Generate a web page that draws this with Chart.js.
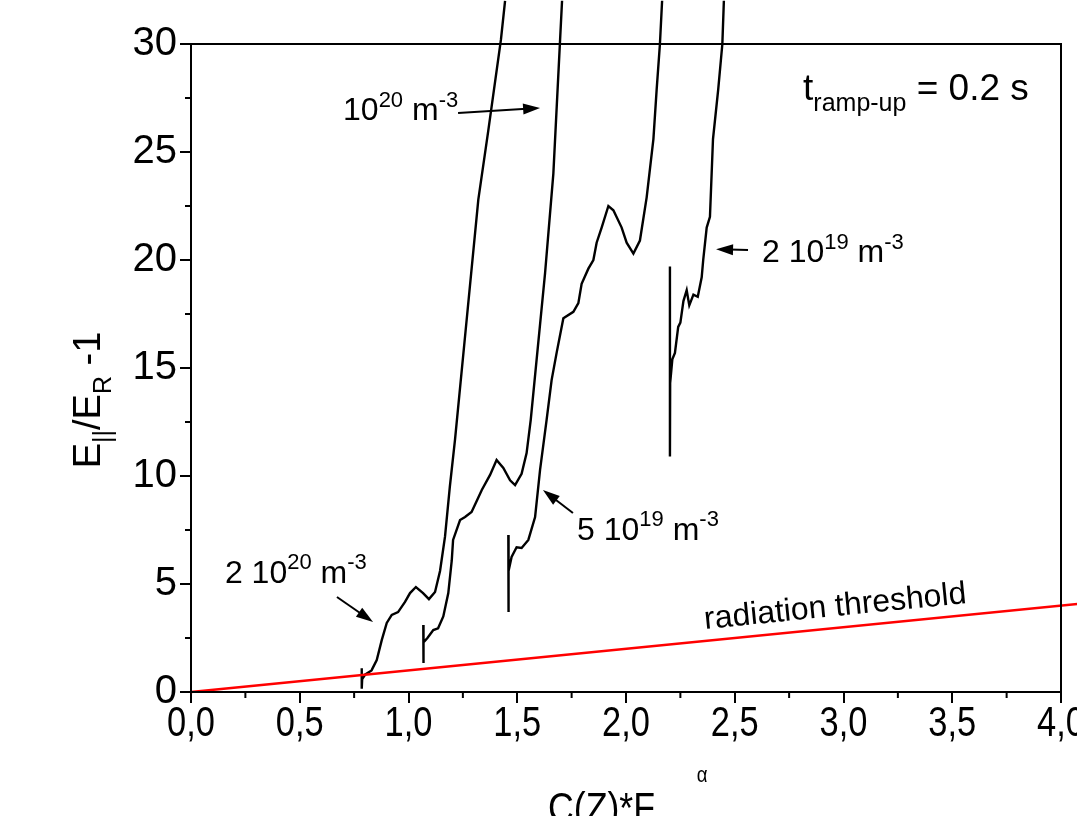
<!DOCTYPE html>
<html>
<head>
<meta charset="utf-8">
<script src="https://cdn.jsdelivr.net/npm/chart.js@4.4.1/dist/chart.umd.min.js"></script>
<style>
  html, body { margin: 0; padding: 0; background: #fff; overflow: hidden; }
  #wrap { width: 1120px; height: 840px; }
</style>
</head>
<body>
<div id="wrap"><canvas id="fieldChart" width="1120" height="840"></canvas></div>
<script>
// curves E||/ER - 1 vs C(Z)*F^alpha, one per density
const dens2e20 = [[0.785,1.1],[0.785,0.15],[0.787,0.6],[0.80,0.8],[0.83,1.0],[0.854,1.48],[0.877,2.4],[0.90,3.2],[0.923,3.57],[0.952,3.7],[0.984,4.17],[1.007,4.58],[1.034,4.86],[1.067,4.58],[1.094,4.3],[1.122,4.63],[1.145,5.6],[1.168,7.2],[1.19,9.5],[1.214,11.7],[1.27,17.5],[1.321,22.8],[1.367,26.0],[1.425,30.2],[1.444,32]];
const dens1e20 = [[1.068,3.1],[1.068,1.34],[1.070,2.3],[1.087,2.5],[1.114,2.87],[1.136,2.95],[1.16,3.5],[1.183,4.58],[1.199,6.1],[1.205,7.04],[1.237,7.96],[1.26,8.1],[1.29,8.33],[1.32,8.98],[1.337,9.35],[1.375,10.05],[1.405,10.74],[1.436,10.37],[1.467,9.8],[1.49,9.58],[1.52,10.1],[1.543,11.06],[1.562,12.6],[1.628,19.4],[1.666,24.0],[1.697,30.2],[1.706,32]];
const dens5e19 = [[1.459,7.27],[1.459,3.7],[1.461,5.6],[1.474,6.25],[1.497,6.7],[1.52,6.67],[1.551,7.04],[1.582,8.1],[1.605,10.3],[1.635,12.6],[1.658,14.44],[1.681,15.7],[1.712,17.3],[1.758,17.6],[1.781,18.0],[1.796,18.9],[1.827,19.6],[1.85,20.0],[1.865,20.8],[1.888,21.5],[1.919,22.5],[1.942,22.3],[1.98,21.5],[2.003,20.8],[2.034,20.3],[2.064,20.9],[2.095,22.9],[2.126,25.6],[2.141,27.9],[2.156,30.0],[2.166,32]];
const dens2e19 = [[2.202,19.7],[2.202,10.9],[2.203,14.3],[2.213,15.4],[2.225,15.7],[2.24,16.9],[2.25,17.1],[2.264,18.1],[2.279,18.6],[2.291,17.9],[2.31,18.4],[2.33,18.3],[2.348,19.2],[2.355,20.0],[2.371,21.5],[2.386,22.0],[2.40,25.6],[2.424,27.9],[2.443,30.0],[2.45,32]];
const threshold = [[0,0],[4.3,4.3]];

const xTicks = [0, 0.5, 1, 1.5, 2, 2.5, 3, 3.5, 4];
const yTicks = [0, 5, 10, 15, 20, 25, 30];

const FONT = "'Liberation Sans', Arial, sans-serif";

function pts(arr) {
    return arr.map(p => ({x: p[0], y: p[1]}));
}

// text with sub/superscript pieces: [text, 0 normal | 1 sup | -1 sub]
function drawRich(ctx, x, y, parts, size, small, align) {
    let total = 0;
    parts.forEach(p => {
        ctx.font = (p[1] ? small : size) + 'px ' + FONT;
        p.w = ctx.measureText(p[0]).width;
        total += p.w;
    });
    let cx = align === 'center' ? x - total / 2 : (align === 'right' ? x - total : x);
    ctx.textBaseline = 'alphabetic';
    ctx.textAlign = 'left';
    parts.forEach(p => {
        ctx.font = (p[1] ? small : size) + 'px ' + FONT;
        let dy = p[1] === 1 ? -size * 0.42 : (p[1] === -1 ? size * 0.3 : 0);
        ctx.fillText(p[0], cx, y + dy);
        cx += p.w;
    });
}

function arrow(ctx, x1, y1, x2, y2) {
    const ang = Math.atan2(y2 - y1, x2 - x1);
    const head = 17, half = 5.5;
    ctx.beginPath();
    ctx.moveTo(x1, y1);
    ctx.lineTo(x2 - Math.cos(ang) * head * 0.8, y2 - Math.sin(ang) * head * 0.8);
    ctx.lineWidth = 2;
    ctx.stroke();
    ctx.beginPath();
    ctx.moveTo(x2, y2);
    ctx.lineTo(x2 - Math.cos(ang) * head - Math.sin(ang) * half, y2 - Math.sin(ang) * head + Math.cos(ang) * half);
    ctx.lineTo(x2 - Math.cos(ang) * head + Math.sin(ang) * half, y2 - Math.sin(ang) * head - Math.cos(ang) * half);
    ctx.closePath();
    ctx.fill();
}

const decorations = {
    id: 'decorations',
    afterDraw(chart) {
        const ctx = chart.ctx;
        const a = chart.chartArea;
        const xs = chart.scales.x, ys = chart.scales.y;
        const X = v => xs.getPixelForValue(v);
        const Y = v => ys.getPixelForValue(v);
        ctx.save();
        ctx.strokeStyle = '#000';
        ctx.fillStyle = '#000';

        // frame
        ctx.lineWidth = 2;
        ctx.strokeRect(a.left, a.top, a.right - a.left, a.bottom - a.top);

        // minor ticks
        ctx.beginPath();
        for (let v = 0.25; v < 4; v += 0.5) {
            ctx.moveTo(X(v), a.bottom);
            ctx.lineTo(X(v), a.bottom + 6);
        }
        for (let v = 2.5; v < 30; v += 5) {
            ctx.moveTo(a.left, Y(v));
            ctx.lineTo(a.left - 6, Y(v));
        }
        ctx.stroke();

        // x tick labels, condensed like the original
        ctx.font = '42px ' + FONT;
        ctx.textAlign = 'center';
        ctx.textBaseline = 'alphabetic';
        xTicks.forEach(v => {
            ctx.save();
            ctx.translate(X(v), a.bottom + 44);
            ctx.scale(0.82, 1);
            ctx.fillText(v.toFixed(1).replace('.', ','), 0, 0);
            ctx.restore();
        });

        // x axis title
        ctx.save();
        ctx.translate(548, 822);
        ctx.scale(0.85, 1);
        ctx.font = '42px ' + FONT;
        ctx.textAlign = 'left';
        ctx.fillText('C(Z)*F', 0, 0);
        ctx.font = '22px ' + FONT;
        ctx.fillText('\u03B1', 175, -40);
        ctx.restore();

        // y axis title
        ctx.save();
        ctx.translate(100, 400);
        ctx.rotate(-Math.PI / 2);
        drawRich(ctx, 0, 0, [['E', 0], ['||', -1], ['/E', 0], ['R', -1], [' -1', 0]], 38, 25, 'center');
        ctx.restore();

        // annotations
        drawRich(ctx, X(0.699), Y(26.48), [['10', 0], ['20', 1], [' m', 0], ['-3', 1]], 32, 22, 'left');
        arrow(ctx, X(1.228), Y(26.8), X(1.605), Y(27.04));

        drawRich(ctx, X(2.814), Y(27.4), [['t', 0], ['ramp-up', -1], [' = 0.2 s', 0]], 37, 25, 'left');

        drawRich(ctx, X(2.625), Y(19.9), [['2 10', 0], ['19', 1], [' m', 0], ['-3', 1]], 32, 22, 'left');
        arrow(ctx, X(2.561), Y(20.46), X(2.414), Y(20.5));

        drawRich(ctx, X(1.775), Y(7.04), [['5 10', 0], ['19', 1], [' m', 0], ['-3', 1]], 32, 22, 'left');
        arrow(ctx, X(1.756), Y(8.29), X(1.618), Y(9.35));

        drawRich(ctx, X(0.156), Y(5.05), [['2 10', 0], ['20', 1], [' m', 0], ['-3', 1]], 32, 22, 'left');
        arrow(ctx, X(0.671), Y(4.4), X(0.837), Y(3.24));

        // label along the threshold line
        const lx = 2.966;
        const ang = Math.atan2(Y(4) - Y(0), X(4) - X(0));
        ctx.save();
        ctx.translate(X(lx), Y(lx) - 12);
        ctx.rotate(ang);
        ctx.font = '32px ' + FONT;
        ctx.textAlign = 'center';
        ctx.textBaseline = 'alphabetic';
        ctx.fillText('radiation threshold', 0, 0);
        ctx.restore();

        ctx.restore();
    }
};

function lineSet(data, color, width) {
    return {
        data: pts(data),
        showLine: true,
        borderColor: color,
        borderWidth: width,
        pointRadius: 0,
        tension: 0,
        clip: false
    };
}

const ctx = document.getElementById('fieldChart').getContext('2d');
const fieldChart = new Chart(ctx, {
    type: 'scatter',
    data: {
        datasets: [
            lineSet(threshold, '#ff0000', 2.5),
            lineSet(dens2e20, '#000', 2.4),
            lineSet(dens1e20, '#000', 2.4),
            lineSet(dens5e19, '#000', 2.4),
            lineSet(dens2e19, '#000', 2.4)
        ]
    },
    options: {
        responsive: false,
        animation: false,
        events: [],
        layout: { padding: { top: 44, right: 59, left: 0, bottom: 0 } },
        plugins: { legend: { display: false }, tooltip: { enabled: false } },
        scales: {
            x: {
                type: 'linear',
                min: 0,
                max: 4,
                afterFit: s => { s.height = 148; },
                afterBuildTicks: s => { s.ticks = xTicks.map(v => ({value: v})); },
                border: { display: false },
                grid: { drawOnChartArea: false, drawTicks: true, tickLength: 11, color: '#000', lineWidth: 2 },
                ticks: { display: false }
            },
            y: {
                type: 'linear',
                min: 0,
                max: 30,
                afterFit: s => { s.width = 191; },
                afterBuildTicks: s => { s.ticks = yTicks.map(v => ({value: v})); },
                border: { display: false },
                grid: { drawOnChartArea: false, drawTicks: true, tickLength: 11, color: '#000', lineWidth: 2 },
                ticks: {
                    color: '#000',
                    padding: 3,
                    font: { family: FONT, size: 40 },
                    callback: v => String(v)
                }
            }
        }
    },
    plugins: [decorations]
});
</script>
</body>
</html>
